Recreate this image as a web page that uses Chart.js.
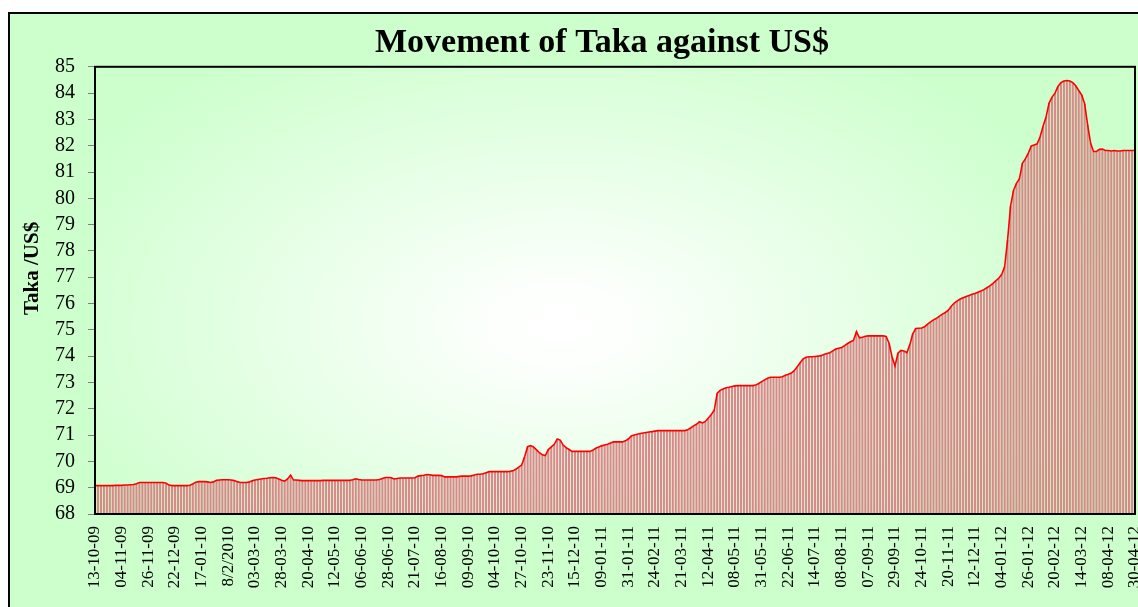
<!DOCTYPE html>
<html>
<head>
<meta charset="utf-8">
<script src="https://cdn.jsdelivr.net/npm/chart.js@4/dist/chart.umd.min.js"></script>
<style>
html,body{margin:0;padding:0;background:#fff;}
#wrap{width:1138px;height:607px;position:relative;}
</style>
</head>
<body>
<div id="wrap"><canvas id="c"></canvas></div>
<script>
const chartTitle = 'Movement of Taka against US$';
const yAxisTitle = 'Taka /US$';

const tickLabels = ['13-10-09','04-11-09','26-11-09','22-12-09','17-01-10','8/2/2010','03-03-10','28-03-10',
  '20-04-10','12-05-10','06-06-10','28-06-10','21-07-10','16-08-10','09-09-10','04-10-10','27-10-10',
  '23-11-10','15-12-10','09-01-11','31-01-11','24-02-11','21-03-11','12-04-11','08-05-11','31-05-11',
  '22-06-11','14-07-11','08-08-11','07-09-11','29-09-11','24-10-11','20-11-11','12-12-11','04-01-12',
  '26-01-12','20-02-12','14-03-12','08-04-12','30-04-12'];
const pointsPerLabel = 9;

const rateValues = [
  69.08,69.08,69.08,69.08,69.08,69.08,69.08,69.09,69.09,
  69.09,69.10,69.10,69.11,69.12,69.15,69.20,69.20,69.20,
  69.20,69.20,69.20,69.20,69.20,69.20,69.17,69.10,69.08,
  69.08,69.08,69.08,69.08,69.08,69.09,69.14,69.21,69.23,
  69.23,69.23,69.22,69.20,69.22,69.28,69.29,69.30,69.30,
  69.30,69.29,69.27,69.23,69.20,69.20,69.20,69.21,69.26,
  69.29,69.31,69.33,69.35,69.36,69.38,69.39,69.38,69.33,
  69.28,69.25,69.33,69.48,69.29,69.29,69.28,69.27,69.27,
  69.27,69.27,69.27,69.27,69.27,69.28,69.28,69.28,69.28,
  69.28,69.28,69.28,69.28,69.28,69.28,69.30,69.34,69.31,
  69.29,69.29,69.29,69.29,69.29,69.29,69.31,69.35,69.39,
  69.39,69.38,69.33,69.35,69.37,69.37,69.37,69.37,69.37,
  69.38,69.44,69.46,69.47,69.50,69.49,69.47,69.47,69.47,
  69.46,69.41,69.41,69.41,69.41,69.41,69.43,69.44,69.44,
  69.44,69.45,69.48,69.51,69.51,69.53,69.57,69.61,69.61,
  69.61,69.61,69.61,69.61,69.61,69.62,69.64,69.70,69.78,
  69.86,70.18,70.56,70.60,70.55,70.44,70.33,70.25,70.22,
  70.45,70.55,70.65,70.85,70.81,70.62,70.52,70.45,70.38,
  70.38,70.38,70.38,70.38,70.38,70.38,70.42,70.50,70.55,
  70.59,70.62,70.65,70.70,70.74,70.74,70.74,70.74,70.78,
  70.85,70.97,71.00,71.03,71.06,71.08,71.10,71.12,71.13,
  71.15,71.17,71.17,71.17,71.17,71.17,71.17,71.17,71.17,
  71.17,71.17,71.20,71.27,71.35,71.41,71.51,71.46,71.52,
  71.65,71.78,71.95,72.59,72.70,72.75,72.80,72.82,72.85,
  72.87,72.88,72.88,72.88,72.88,72.88,72.88,72.90,72.96,
  73.03,73.10,73.16,73.20,73.20,73.20,73.20,73.22,73.27,
  73.31,73.36,73.45,73.60,73.75,73.90,73.96,73.98,73.98,
  73.99,74.00,74.02,74.06,74.10,74.13,74.20,74.27,74.30,
  74.33,74.40,74.48,74.55,74.60,74.93,74.70,74.72,74.76,
  74.77,74.77,74.77,74.77,74.77,74.77,74.75,74.49,73.98,
  73.63,74.11,74.22,74.20,74.13,74.43,74.85,75.05,75.06,
  75.07,75.12,75.22,75.30,75.38,75.44,75.52,75.60,75.66,
  75.75,75.90,76.02,76.10,76.17,76.22,76.27,76.31,76.35,
  76.38,76.43,76.48,76.53,76.60,76.67,76.76,76.86,76.96,
  77.10,77.40,78.42,79.70,80.30,80.57,80.75,81.33,81.50,
  81.72,81.99,82.03,82.07,82.35,82.75,83.10,83.62,83.85,
  84.00,84.25,84.40,84.46,84.48,84.46,84.40,84.28,84.10,
  83.93,83.60,82.80,82.10,81.78,81.78,81.86,81.87,81.82,
  81.82,81.80,81.82,81.80,81.80,81.82,81.82,81.82,81.82,
  81.82
];

const yMin = 68, yMax = 85, yStep = 1;

const categories = rateValues.map((v, i) =>
  i % pointsPerLabel === 0 ? (tickLabels[i / pointsPerLabel] || '') : '');

const serif = "'Liberation Serif','Times New Roman',serif";

const backgroundPlugin = {
  id: 'bg',
  beforeDraw(chart) {
    const {ctx, chartArea: a, width, height} = chart;
    ctx.save();
    ctx.fillStyle = '#ffffff';
    ctx.fillRect(0, 0, width, height);
    ctx.fillStyle = '#ccffcc';
    ctx.fillRect(8, 12, width - 8, height - 12);
    ctx.save();
    ctx.beginPath();
    ctx.rect(a.left, a.top, a.right - a.left, a.bottom - a.top);
    ctx.clip();
    const cx = 560, cy = 325, rx = 570, ry = 330;
    ctx.translate(cx, cy);
    ctx.scale(rx / ry, 1);
    const g = ctx.createRadialGradient(0, 0, 0, 0, 0, ry);
    g.addColorStop(0, '#ffffff');
    g.addColorStop(0.12, '#fcfffc');
    g.addColorStop(1, '#ccffcc');
    ctx.fillStyle = g;
    ctx.fillRect(-3000, -3000, 6000, 6000);
    ctx.restore();
    ctx.strokeStyle = '#000';
    ctx.lineWidth = 2;
    ctx.beginPath();
    ctx.moveTo(9, height + 5);
    ctx.lineTo(9, 13);
    ctx.lineTo(width + 5, 13);
    ctx.stroke();
    ctx.restore();
  },
  afterLayout(chart) {
    if (chart.titleBlock) {
      chart.titleBlock.left = 66;
      chart.titleBlock.right = chart.width;
    }
    const ys = chart.scales.y;
    if (ys && !ys._titlePatched) {
      const orig = ys.drawTitle;
      ys.drawTitle = function () {
        const b = this.bottom;
        this.bottom = b - 44;
        orig.call(this);
        this.bottom = b;
      };
      ys._titlePatched = true;
    }
  },
  afterDraw(chart) {
    const {ctx, chartArea: a} = chart;
    ctx.save();
    ctx.strokeStyle = '#000';
    ctx.lineWidth = 2;
    ctx.strokeRect(a.left, a.top, a.right - a.left, a.bottom - a.top);
    ctx.restore();
  }
};

new Chart(document.getElementById('c'), {
  type: 'bar',
  data: {
    labels: categories,
    datasets: [
      {
        type: 'line',
        data: rateValues,
        borderColor: '#ff0000',
        borderWidth: 1.6,
        pointRadius: 0,
        tension: 0,
        fill: false,
        order: 0
      },
      {
        type: 'bar',
        data: rateValues,
        backgroundColor: '#d68b89',
        borderWidth: 0,
        barPercentage: 0.72,
        categoryPercentage: 1,
        order: 1
      }
    ]
  },
  plugins: [backgroundPlugin],
  options: {
    responsive: true,
    maintainAspectRatio: false,
    animation: false,
    events: [],
    layout: {padding: {top: 0, left: 0, right: 3, bottom: 0}},
    plugins: {
      legend: {display: false},
      tooltip: {enabled: false},
      title: {
        display: true,
        text: chartTitle,
        color: '#000',
        font: {family: serif, size: 34, weight: 'bold'},
        padding: {top: 23, bottom: 3}
      }
    },
    scales: {
      x: {
        type: 'category',
        offset: false,
        grid: {display: false, offset: false},
        border: {display: true, color: '#000', width: 2},
        ticks: {
          autoSkip: false,
          minRotation: 90,
          maxRotation: 90,
          padding: 4,
          color: '#000',
          font: {family: serif, size: 17}
        },
        afterFit(s) { s.height = 93; s.paddingLeft = 0; s.paddingRight = 0; }
      },
      y: {
        min: yMin,
        max: yMax,
        grid: {display: true, drawOnChartArea: false, drawTicks: true, tickLength: 7, color: '#808080'},
        border: {display: true, color: '#000', width: 2},
        ticks: {
          stepSize: yStep,
          autoSkip: false,
          padding: 13,
          color: '#000',
          font: {family: serif, size: 20}
        },
        title: {
          display: true,
          text: yAxisTitle,
          color: '#000',
          font: {family: serif, size: 21, weight: 'bold'},
          padding: {top: 20, bottom: 0}
        },
        afterFit(s) { s.width = 95; }
      }
    }
  }
});
</script>
</body>
</html>
